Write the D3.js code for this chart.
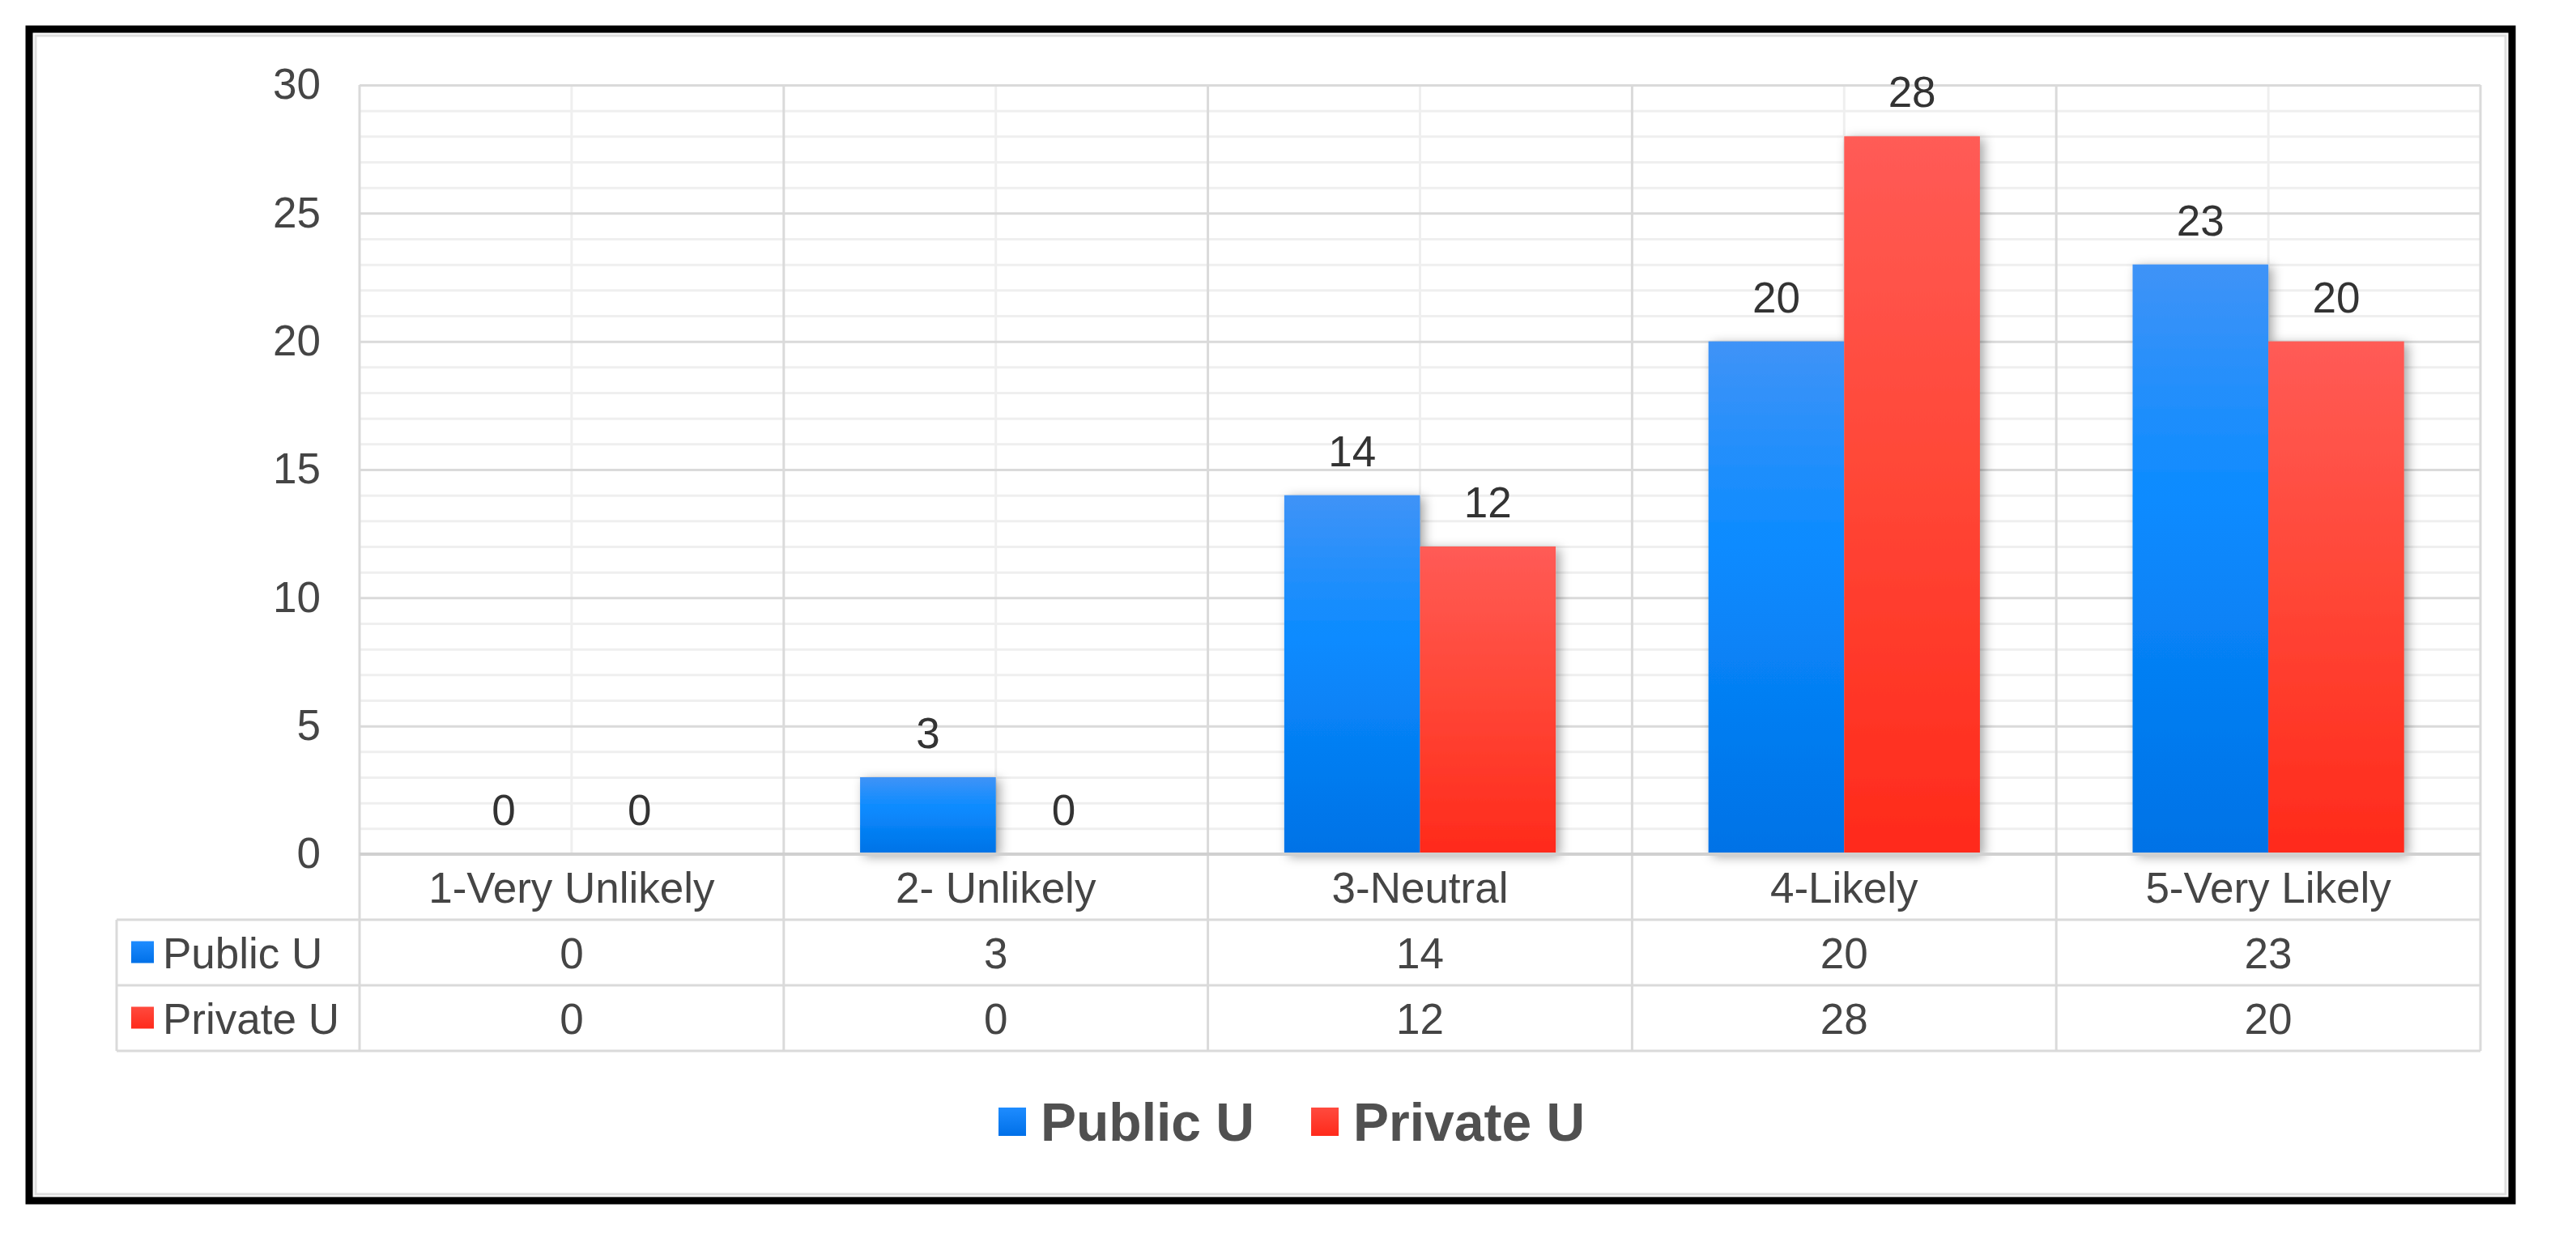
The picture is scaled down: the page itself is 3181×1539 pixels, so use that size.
<!DOCTYPE html>
<html>
<head>
<meta charset="utf-8">
<script src="https://cdn.jsdelivr.net/npm/d3@7"></script>
<style>
  html, body { margin: 0; padding: 0; background: #fff; }
  svg { display: block; }
  text { font-family: "Liberation Sans", Arial, Helvetica, sans-serif; }
</style>
</head>
<body>
<svg id="chart" width="3181" height="1539"></svg>
<script>
// ---- data ----
const categories = ["1-Very Unlikely", "2- Unlikely", "3-Neutral", "4-Likely", "5-Very Likely"];
const seriesNames = ["Public U", "Private U"];
const publicU = [0, 3, 14, 20, 23];
const privateU = [0, 0, 12, 28, 20];
const yTicks = [0, 5, 10, 15, 20, 25, 30];
const yMinorTicks = d3.range(0, 31, 1);

const seriesValues = [publicU, privateU];

// ---- layout ----
const W = 3181, H = 1539;
const plot = { left: 444, right: 3063, top: 105, bottom: 1055 };
const rowH = 81;
const tableLeft = 144;
const fontSize = 53;
const textColor = "#454545";

const svg = d3.select("#chart");
const defs = svg.append("defs");

// gradients
const gradSpecs = [
  { id: "gBlue", stops: [["0%", "#3f93f7"], ["40%", "#0b8bff"], ["100%", "#0072e6"]] },
  { id: "gRed", stops: [["0%", "#ff5b56"], ["45%", "#ff4838"], ["100%", "#ff2a1b"]] }
];
gradSpecs.forEach(g => {
  const lg = defs.append("linearGradient").attr("id", g.id)
    .attr("x1", 0).attr("y1", 0).attr("x2", 0).attr("y2", 1);
  g.stops.forEach(s => lg.append("stop").attr("offset", s[0]).attr("stop-color", s[1]));
});
const legendGrad = [
  { id: "lBlue", stops: [["0%", "#1e8cff"], ["100%", "#0070e8"]] },
  { id: "lRed", stops: [["0%", "#ff4a3e"], ["100%", "#ff2a1b"]] }
];
legendGrad.forEach(g => {
  const lg = defs.append("linearGradient").attr("id", g.id)
    .attr("x1", 0).attr("y1", 0).attr("x2", 0).attr("y2", 1);
  g.stops.forEach(s => lg.append("stop").attr("offset", s[0]).attr("stop-color", s[1]));
});
const barFills = ["url(#gBlue)", "url(#gRed)"];
const keyFills = ["url(#lBlue)", "url(#lRed)"];

const shadow = defs.append("filter").attr("id", "shadow")
  .attr("x", "-20%").attr("y", "-10%").attr("width", "150%").attr("height", "130%");
shadow.append("feDropShadow").attr("dx", 5).attr("dy", 3).attr("stdDeviation", 7)
  .attr("flood-color", "#000").attr("flood-opacity", 0.35);

// background + frame
svg.append("rect").attr("width", W).attr("height", H).attr("fill", "#fff");
svg.append("rect").attr("x", 36).attr("y", 36).attr("width", 3066).attr("height", 1447)
  .attr("fill", "#fff").attr("stroke", "#000").attr("stroke-width", 9);
svg.append("rect").attr("x", 44).attr("y", 44).attr("width", 3050).attr("height", 1431)
  .attr("fill", "none").attr("stroke", "#dedede").attr("stroke-width", 3);

// scales
const x0 = d3.scaleBand().domain(categories).range([plot.left, plot.right]).paddingInner(0).paddingOuter(0);
const x1 = d3.scaleBand().domain(seriesNames).range([0, x0.bandwidth()]).paddingInner(0).paddingOuter(0.5625);
const y = d3.scaleLinear().domain([0, 30]).range([plot.bottom, plot.top]);

// minor horizontal gridlines
svg.append("g").attr("transform", `translate(${plot.left},0)`)
  .call(d3.axisLeft(y).tickValues(yMinorTicks.filter(v => v % 5 !== 0)).tickSize(-(plot.right - plot.left)).tickFormat(""))
  .call(g => g.select(".domain").remove())
  .call(g => g.selectAll("line").attr("stroke", "#efefef").attr("stroke-width", 3));

// vertical center lines (light)
svg.append("g").selectAll("line").data(categories).join("line")
  .attr("x1", d => x0(d) + x0.bandwidth() / 2).attr("x2", d => x0(d) + x0.bandwidth() / 2)
  .attr("y1", plot.top).attr("y2", plot.bottom)
  .attr("stroke", "#efefef").attr("stroke-width", 3);

// major horizontal gridlines
svg.append("g").attr("transform", `translate(${plot.left},0)`)
  .call(d3.axisLeft(y).tickValues(yTicks).tickSize(-(plot.right - plot.left)).tickFormat(""))
  .call(g => g.select(".domain").remove())
  .call(g => g.selectAll("line").attr("stroke", "#dadada").attr("stroke-width", 3));

// vertical category boundaries (plot + table)
const tableBottom = plot.bottom + rowH * 3;
const boundaries = categories.map(c => x0(c)).concat([plot.right]);
svg.append("g").selectAll("line").data(boundaries).join("line")
  .attr("x1", d => d).attr("x2", d => d)
  .attr("y1", plot.top).attr("y2", tableBottom)
  .attr("stroke", "#dadada").attr("stroke-width", 3);

// y tick labels
svg.append("g").attr("transform", `translate(${plot.left},0)`)
  .call(d3.axisLeft(y).tickValues(yTicks).tickSize(0).tickPadding(48))
  .call(g => g.select(".domain").remove())
  .call(g => g.selectAll("text").attr("font-size", fontSize).attr("fill", textColor)
    .attr("font-family", '"Liberation Sans", Arial, sans-serif'));

// bars
const barData = [];
categories.forEach((c, i) => {
  seriesNames.forEach((s, j) => barData.push({ cat: c, series: s, j: j, value: seriesValues[j][i] }));
});
svg.append("g").attr("filter", "url(#shadow)").selectAll("rect").data(barData.filter(d => d.value > 0)).join("rect")
  .attr("x", d => x0(d.cat) + x1(d.series))
  .attr("y", d => y(d.value))
  .attr("width", x1.bandwidth())
  .attr("height", d => y(0) - y(d.value))
  .attr("fill", d => barFills[d.j]);

// data labels
svg.append("g").selectAll("text").data(barData).join("text")
  .attr("x", d => x0(d.cat) + x1(d.series) + x1.bandwidth() / 2)
  .attr("y", d => y(d.value) - 36)
  .attr("text-anchor", "middle")
  .attr("font-size", fontSize)
  .attr("fill", "#333")
  .text(d => d.value);

// table horizontal lines
const hLines = [
  { y: plot.bottom + rowH, x1: tableLeft, x2: plot.right },
  { y: plot.bottom + rowH * 2, x1: tableLeft, x2: plot.right },
  { y: plot.bottom + rowH * 3, x1: tableLeft, x2: plot.right }
];
svg.append("g").selectAll("line").data(hLines).join("line")
  .attr("x1", d => d.x1).attr("x2", d => d.x2).attr("y1", d => d.y).attr("y2", d => d.y)
  .attr("stroke", "#dadada").attr("stroke-width", 3);
// table left border
svg.append("line").attr("x1", tableLeft).attr("x2", tableLeft)
  .attr("y1", plot.bottom + rowH).attr("y2", tableBottom)
  .attr("stroke", "#dadada").attr("stroke-width", 3);
// axis baseline
svg.append("line").attr("x1", plot.left).attr("x2", plot.right)
  .attr("y1", plot.bottom).attr("y2", plot.bottom)
  .attr("stroke", "#d0d0d0").attr("stroke-width", 4);

// category labels
svg.append("g").selectAll("text").data(categories).join("text")
  .attr("x", d => x0(d) + x0.bandwidth() / 2)
  .attr("y", plot.bottom + rowH / 2)
  .attr("dy", "0.36em")
  .attr("text-anchor", "middle")
  .attr("font-size", fontSize)
  .attr("fill", textColor)
  .text(d => d);

// table values
seriesNames.forEach((s, j) => {
  const rowY = plot.bottom + rowH * (j + 1) + rowH / 2;
  svg.append("g").selectAll("text").data(categories).join("text")
    .attr("x", d => x0(d) + x0.bandwidth() / 2)
    .attr("y", rowY)
    .attr("dy", "0.36em")
    .attr("text-anchor", "middle")
    .attr("font-size", fontSize)
    .attr("fill", textColor)
    .text((d, i) => seriesValues[j][i]);
  svg.append("rect").attr("x", tableLeft + 18).attr("y", rowY - 14)
    .attr("width", 28).attr("height", 27).attr("fill", keyFills[j]);
  svg.append("text").attr("x", tableLeft + 57).attr("y", rowY).attr("dy", "0.36em")
    .attr("font-size", fontSize).attr("fill", textColor).text(s);
});

// legend
const legendY = 1385;
const legend = svg.append("g");
let lx = 1233;
seriesNames.forEach((s, j) => {
  legend.append("rect").attr("x", lx).attr("y", legendY - 17).attr("width", 34).attr("height", 35)
    .attr("fill", keyFills[j]);
  const t = legend.append("text").attr("x", lx + 52).attr("y", legendY).attr("dy", "0.36em")
    .attr("font-size", 66).attr("font-weight", "bold").attr("fill", "#505050").text(s);
  lx = lx + 52 + t.node().getComputedTextLength() + 70;
});
</script>
</body>
</html>
